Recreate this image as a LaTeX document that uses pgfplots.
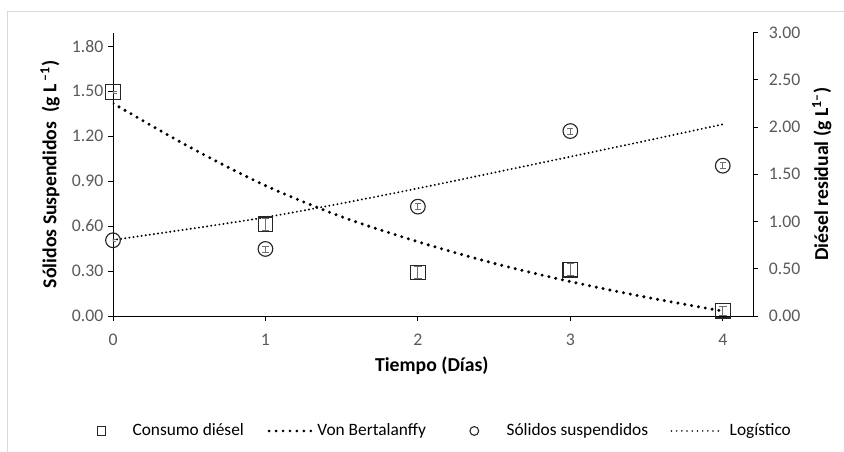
\documentclass[border=0pt]{standalone}
\usepackage{fontspec}
\setmainfont{Carlito}
\usepackage{pgfplots}
\pgfplotsset{compat=1.18}
\definecolor{tickgray}{HTML}{595959}
\definecolor{framegray}{HTML}{D9D9D9}
\definecolor{markgray}{HTML}{262626}
\definecolor{errgray}{HTML}{6F6F6F}

\pgfplotstableread{
x y e
0 2.37 0.01
1 0.97 0.065
2 0.46 0.065
3 0.49 0.065
4 0.056 0.05
}\diesel
\pgfplotstableread{
x y
0 2.25
0.5 1.79
1 1.38
1.5 1.05
2 0.786
2.5 0.557
3 0.364
3.5 0.198
4 0.052
}\bertalanffy
\pgfplotstableread{
x y e
0 0.505 0.008
1 0.447 0.02
2 0.729 0.02
3 1.233 0.02
4 1.002 0.02
}\solidos
\pgfplotstableread{
x y
0 0.507
0.5 0.580
1 0.658
1.5 0.751
2 0.851
2.5 0.956
3 1.062
3.5 1.169
4 1.278
}\logistico

\pgfplotsset{
  common/.style={
    at={(0pt,0pt)}, anchor=south west,
    scale only axis, width=480.2pt, height=212.6pt,
    xmin=0, xmax=4.2, ymin=0,
    tick align=outside,
    major tick length=3.75pt,
    every tick/.style={black, line width=0.7pt},
    axis line style={black, line width=0.7pt},
    /pgf/number format/assume math mode=true,
    tick label style={font=\fontsize{13.3}{15}\selectfont, text=tickgray},
    yticklabel style={/pgf/number format/fixed, /pgf/number format/fixed zerofill, /pgf/number format/precision=2},
    label style={font=\fontsize{14.8}{17}\selectfont\bfseries},
  },
}

\begin{document}
\begin{tikzpicture}[x=1pt,y=1pt]
\path[use as bounding box] (-84.75,-102) rectangle (548.25,237);
\draw[framegray, line width=0.75pt] (-78.75,-102) -- (-78.75,228) -- (548.25,228);

\begin{axis}[common,
  ymax=1.89,
  axis x line*=bottom, axis y line*=left,
  xtick={0,1,2,3,4}, ytick={0,0.3,0.6,0.9,1.2,1.5,1.8},
  xticklabel style={yshift=-6pt},
  xlabel={Tiempo (Días)},
  ylabel={Sólidos Suspendidos\ \ (g L\,\textsuperscript{–1})},
  xlabel style={at={(axis description cs:0.498,-0.176)}, anchor=center},
  ylabel style={at={(axis description cs:-0.0984,0.5)}, anchor=center},
]
\addplot[black, line width=1.6pt, dash pattern=on 0pt off 3.1pt, line cap=round, smooth]
  table[x=x, y=y] {\logistico};
\addplot[only marks, mark=o, mark size=5.5pt,
  mark options={draw=markgray, line width=0.85pt, fill=none},
  error bars/.cd, y dir=both, y explicit,
  error bar style={errgray, line width=0.6pt},
  error mark options={rotate=90, mark size=2.3pt, errgray, line width=0.6pt}]
  table[x=x, y=y, y error=e] {\solidos};
\end{axis}

\begin{axis}[common,
  ymax=3,
  axis x line=none, axis y line*=right,
  ytick={0,0.5,1,1.5,2,2.5,3},
  yticklabel style={xshift=4.5pt},
  ylabel={Diésel residual (g L\textsuperscript{1–})},
  ylabel style={at={(axis description cs:1.107,0.5)}, anchor=center},
  legend columns=4,
  legend style={at={(axis description cs:-0.0484,-0.4056)}, anchor=west,
    draw=none, fill=none, inner sep=0pt, outer sep=0pt,
    column sep=0pt,
    nodes={inner xsep=0pt, inner ysep=2pt, outer sep=0pt},
    font=\fontsize{13}{15}\selectfont},
]
\addplot[black, line width=2.5pt, dash pattern=on 0pt off 5.2pt, line cap=round, smooth, forget plot]
  table[x=x, y=y] {\bertalanffy};
\addplot[only marks, mark=square, mark size=5.5pt,
  mark options={draw=markgray, line width=0.85pt, fill=none}, forget plot,
  error bars/.cd, y dir=both, y explicit,
  error bar style={errgray, line width=0.6pt},
  error mark options={rotate=90, mark size=2.8pt, errgray, line width=0.6pt}]
  table[x=x, y=y, y error=e] {\diesel};

\addlegendimage{legend image code/.code={\path (0pt,0pt) (37.5pt,0pt);
  \draw[markgray, line width=0.8pt, mark=square, mark size=3.1pt] plot[only marks] coordinates {(14.25pt,0pt)};}}
\addlegendentry{Consumo diésel}
\addlegendimage{legend image code/.code={\path (0pt,0pt) (54.75pt,0pt);
  \draw[black, line width=2.2pt, dash pattern=on 0pt off 5.2pt, line cap=round] (18.75pt,0pt) -- (50pt,0pt);}}
\addlegendentry{Von Bertalanffy}
\addlegendimage{legend image code/.code={\path (0pt,0pt) (60pt,0pt);
  \draw[markgray, line width=0.8pt, mark=o, mark size=3.3pt] plot[only marks] coordinates {(36pt,0pt)};}}
\addlegendentry{Sólidos suspendidos}
\addlegendimage{legend image code/.code={\path (0pt,0pt) (60.75pt,0pt);
  \draw[black, line width=1.3pt, dash pattern=on 0pt off 3.9pt, line cap=round] (17.25pt,0pt) -- (52.5pt,0pt);}}
\addlegendentry{Logístico}
\end{axis}
\end{tikzpicture}
\end{document}
